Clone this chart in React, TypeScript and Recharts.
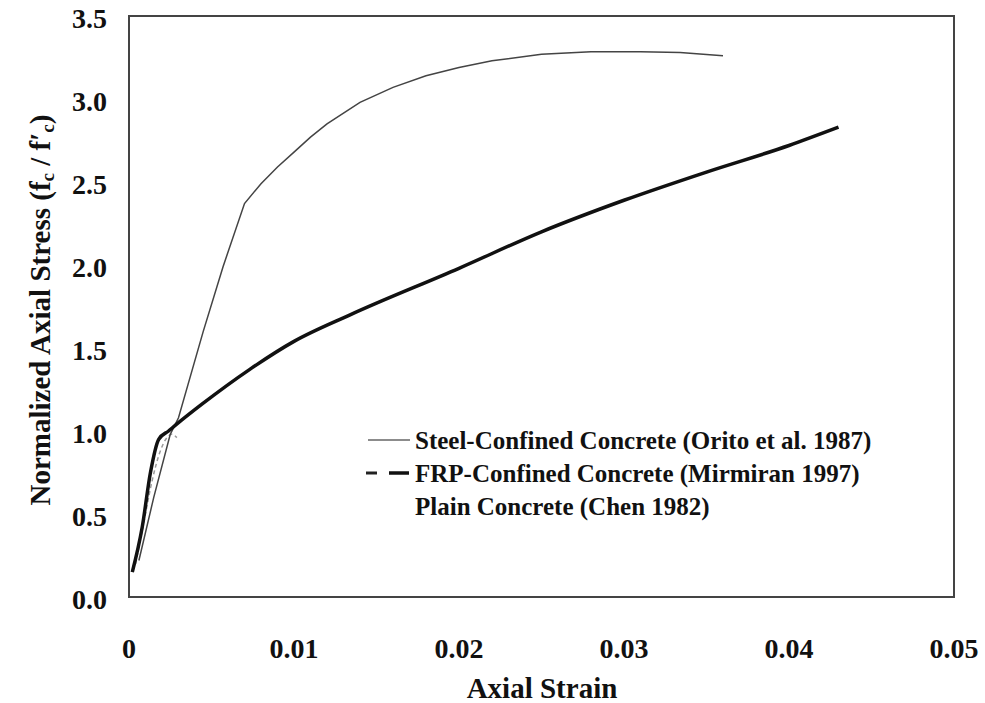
import {
  LineChart,
  Line,
  XAxis,
  YAxis,
  ReferenceArea,
  Label,
} from "recharts";

const SERIF = '"Liberation Serif", "Times New Roman", serif';

// strain / normalized stress
const steelStrain = [0.0006, 0.0015, 0.0025, 0.003, 0.0045, 0.0057, 0.007, 0.008, 0.009, 0.01, 0.011, 0.012, 0.014, 0.016, 0.018, 0.02, 0.022, 0.025, 0.028, 0.031, 0.0334, 0.036];
const steelStress = [0.22, 0.6, 0.98, 1.08, 1.6, 1.99, 2.37, 2.49, 2.59, 2.68, 2.77, 2.85, 2.98, 3.07, 3.14, 3.19, 3.23, 3.27, 3.285, 3.285, 3.28, 3.26];

const frpStrain = [0.0002, 0.0008, 0.0013, 0.0018, 0.0024, 0.003, 0.0044, 0.0073, 0.01, 0.0134, 0.02, 0.025, 0.03, 0.035, 0.04, 0.043];
const frpStress = [0.15, 0.42, 0.75, 0.95, 1.0, 1.05, 1.16, 1.37, 1.54, 1.7, 1.98, 2.2, 2.39, 2.56, 2.72, 2.83];

const plainStrain = [0.0004, 0.0009, 0.0014, 0.0019, 0.0023, 0.0026, 0.0029];
const plainStress = [0.2, 0.45, 0.7, 0.88, 0.96, 0.98, 0.96];

const xTicks = [0, 0.01, 0.02, 0.03, 0.04, 0.05];
const yTicks = [0, 0.5, 1, 1.5, 2, 2.5, 3, 3.5];

const legendItems = [
  "Steel-Confined Concrete (Orito et al. 1987)",
  "FRP-Confined Concrete (Mirmiran 1997)",
  "Plain Concrete (Chen 1982)",
];

const zip = (xs: number[], ys: number[]) => xs.map((x, i) => ({ x, y: ys[i] }));

const steelData = zip(steelStrain, steelStress);
const frpData = zip(frpStrain, frpStress);
const plainData = zip(plainStrain, plainStress);

const YTick = ({ y, payload }: any) => (
  <text x={107} y={y} dy={2} textAnchor="end" dominantBaseline="central"
    fontFamily={SERIF} fontWeight="bold" fontSize={28} fill="#111">
    {Number(payload.value).toFixed(1)}
  </text>
);

const XTick = ({ x, payload }: any) => (
  <text x={x} y={648} textAnchor="middle" dominantBaseline="central"
    fontFamily={SERIF} fontWeight="bold" fontSize={28} fill="#111">
    {payload.value === 0 ? "0" : Number(payload.value).toFixed(2)}
  </text>
);

export default function App() {
  return (
    <div style={{ position: "absolute", left: 0, top: 0, width: 985, height: 703, background: "#fff" }}>
      <LineChart width={985} height={703} data={steelData}
        margin={{ top: 16, right: 31, bottom: 56, left: 60 }}>
        <XAxis type="number" dataKey="x" domain={[0, 0.05]} ticks={xTicks}
          tick={<XTick />} tickLine={false} height={50}
          axisLine={{ stroke: "#444", strokeWidth: 2 }}>
          <Label content={() => (
            <text x={542} y={688} textAnchor="middle" dominantBaseline="central"
              fontFamily={SERIF} fontWeight="bold" fontSize={29} fill="#111">
              Axial Strain
            </text>
          )} />
        </XAxis>
        <YAxis type="number" domain={[0, 3.5]} ticks={yTicks} width={69}
          tick={<YTick />} tickLine={false}
          axisLine={{ stroke: "#444", strokeWidth: 2 }}>
          <Label content={() => (
            <text transform="translate(40,310) rotate(-90)" textAnchor="middle"
              dominantBaseline="central" fontFamily={SERIF} fontWeight="bold"
              fontSize={29} fill="#111">
              Normalized Axial Stress (f
              <tspan dy={7} fontSize={19}>c</tspan>
              <tspan dy={-7}> / f′</tspan>
              <tspan dy={7} fontSize={19}>c</tspan>
              <tspan dy={-7}>)</tspan>
            </text>
          )} />
        </YAxis>
        <ReferenceArea x1={0} x2={0.05} y1={0} y2={3.5} fill="none"
          stroke="#444" strokeWidth={2} />
        <Line data={plainData} dataKey="y" type="monotone" stroke="#9a9a9a"
          strokeWidth={1.5} strokeDasharray="4 3" dot={false} isAnimationActive={false} />
        <Line data={steelData} dataKey="y" type="linear" stroke="#444"
          strokeWidth={1.5} dot={false} isAnimationActive={false} />
        <Line data={frpData} dataKey="y" type="monotone" stroke="#111"
          strokeWidth={3.5} dot={false} isAnimationActive={false} />
      </LineChart>

      <svg width={560} height={110} style={{ position: "absolute", left: 360, top: 420 }}>
        <line x1={8} x2={50} y1={20} y2={20} stroke="#666" strokeWidth={1.5} />
        <line x1={6} x2={17} y1={53} y2={53} stroke="#222" strokeWidth={3} />
        <line x1={29} x2={49} y1={53} y2={53} stroke="#111" strokeWidth={3.5} />
        {legendItems.map((t, i) => (
          <text key={t} x={55} y={20 + i * 33} dominantBaseline="central"
            fontFamily={SERIF} fontWeight="bold" fontSize={25} fill="#111">
            {t}
          </text>
        ))}
      </svg>
    </div>
  );
}
